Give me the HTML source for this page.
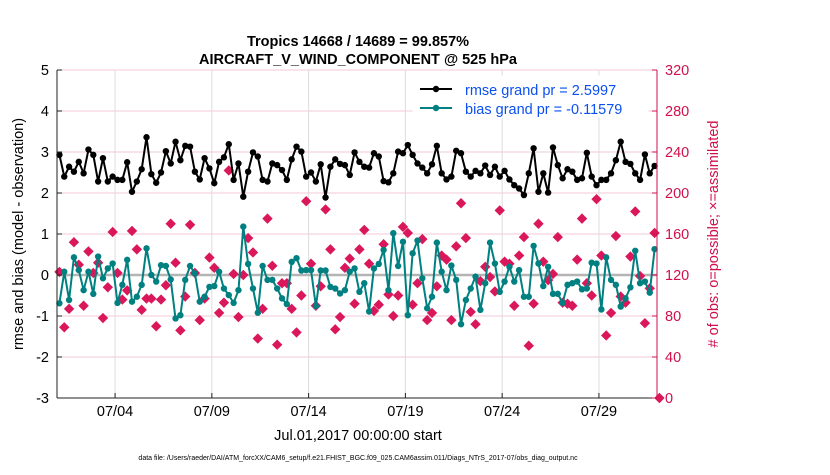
<!DOCTYPE html>
<html><head><meta charset="utf-8"><style>
body{margin:0;background:#fff;font-family:"Liberation Sans",sans-serif}
svg text{font-family:"Liberation Sans",sans-serif}
</style></head><body>
<svg id="chart" width="830" height="470" xmlns="http://www.w3.org/2000/svg">
<rect width="830" height="470" fill="#fff"/>
<text x="358" y="46" text-anchor="middle" font-size="14.5" font-weight="bold">Tropics 14668 / 14689 = 99.857%</text>
<text x="358" y="64" text-anchor="middle" font-size="14.5" font-weight="bold">AIRCRAFT_V_WIND_COMPONENT @ 525 hPa</text>
<g id="grid"></g>
<g id="marks"></g>
<g id="axes"></g>
<g>
<rect x="413" y="76" width="235" height="41" fill="#fff" stroke="#fff"/>
<line x1="420" y1="89" x2="452" y2="89" stroke="#000" stroke-width="2"/><circle cx="436" cy="89" r="3.2" fill="#000"/>
<text x="465" y="95" font-size="14.5" fill="#0a50f0">rmse grand pr = 2.5997</text>
<line x1="420" y1="108" x2="452" y2="108" stroke="#008080" stroke-width="2"/><circle cx="436" cy="108" r="3.2" fill="#008080"/>
<text x="465" y="114" font-size="14.5" fill="#0a50f0">bias grand pr = -0.11579</text>
</g>
<text transform="translate(23,234) rotate(-90)" text-anchor="middle" font-size="14.5">rmse and bias (model - observation)</text>
<text transform="translate(718,234) rotate(-90)" text-anchor="middle" font-size="14.5" fill="#d0104c"># of obs: o=possible; ×=assimilated</text>
<text x="358" y="440" text-anchor="middle" font-size="14.5">Jul.01,2017 00:00:00 start</text>
<text x="358" y="460" text-anchor="middle" font-size="7">data file: /Users/raeder/DAI/ATM_forcXX/CAM6_setup/f.e21.FHIST_BGC.f09_025.CAM6assim.011/Diags_NTrS_2017-07/obs_diag_output.nc</text>
</svg>
<script>
const rmse=[2.93,2.40,2.64,2.52,2.76,2.48,3.06,2.93,2.28,2.85,2.28,2.40,2.32,2.32,2.75,2.03,2.28,2.58,3.36,2.46,2.25,2.50,3.02,2.72,3.25,2.80,3.15,3.13,2.52,2.33,2.85,2.60,2.24,
2.76,2.87,3.19,2.32,2.72,1.91,2.52,2.99,2.89,2.32,2.28,2.72,2.68,2.56,2.32,2.82,3.13,3.01,2.40,2.50,2.28,2.70,1.89,2.64,2.82,2.71,2.68,2.44,2.99,2.76,2.64,
2.62,2.97,2.89,2.29,2.26,2.48,3.01,2.97,3.17,2.93,2.72,2.62,2.48,2.70,3.15,2.48,2.33,2.40,3.03,2.97,2.52,2.40,2.54,2.48,2.67,2.44,2.64,2.40,2.54,2.33,2.19,
2.11,1.95,2.48,3.09,2.03,2.48,2.01,3.11,2.68,2.36,2.58,2.52,2.32,2.36,2.98,2.40,2.19,2.32,2.32,2.48,2.80,3.25,2.76,2.71,2.48,2.32,2.94,2.48,2.66];
const bias=[-0.69,0.08,-0.61,0.43,0.12,-0.37,0.08,-0.46,0.45,-0.08,0.16,0.28,-0.68,-0.24,0.37,-0.65,-0.53,-0.24,0.65,0.0,-0.16,0.24,0.22,-0.11,-1.06,-0.98,-0.12,0.22,0.04,-0.65,-0.53,-0.29,-0.27,
0.08,-0.33,-0.49,-0.68,-0.37,1.18,0.27,-0.33,-0.92,0.22,-0.12,-0.12,-0.33,-0.57,-0.71,0.32,0.41,0.11,0.12,0.12,-0.76,0.11,0.11,-0.29,-0.33,-0.45,-0.37,0.08,0.16,-0.41,-0.2,
-0.89,0.16,0.27,0.61,-0.37,1.02,0.22,0.81,-0.98,0.53,0.84,-0.08,-0.81,-0.53,0.79,0.08,-0.37,0.23,-0.12,-1.20,-0.61,-0.33,-0.04,-0.85,-0.20,0.79,0.28,-0.41,-0.16,0.20,-0.16,
0.12,-0.53,-0.53,0.71,0.28,-0.27,0.20,-0.46,-0.46,-0.68,-0.24,-0.20,-0.16,-0.35,-0.33,0.30,0.28,-0.84,0.43,-0.12,-0.24,-0.77,-0.57,-0.30,0.59,-0.20,-0.16,-0.43,0.63];
const nobs=[123,69,87,152,130,90,143,122,132,78,108,162,122,96,105,163,145,86,97,97,70,96,110,170,132,66,99,169,122,76,97,137,127,
83,93,222,121,79,120,156,142,58,87,175,129,52,112,112,87,64,100,192,131,90,109,184,145,67,79,127,136,92,145,164,
131,85,91,150,101,80,100,167,161,91,112,155,76,83,109,139,135,76,148,190,156,84,72,114,128,118,104,183,133,131,90,
139,157,51,92,170,133,115,121,157,93,92,90,135,175,112,100,194,139,61,83,158,99,93,138,182,119,73,107,161,0];
const leftTicks=[-3,-2,-1,0,1,2,3,4,5];
const rightTicks=[0,40,80,120,160,200,240,280,320];
const dateTicks=[3,8,13,18,23,28];
const dateLabels=["07/04","07/09","07/14","07/19","07/24","07/29"];

const NS="http://www.w3.org/2000/svg";
const X0=57,X1=657,Y0=70,Y1=398;
const xDay=d=>X0+d/31*(X1-X0);
const xIdx=i=>xDay((i+0.5)/4);
const yL=v=>Y1-(v+3)/8*(Y1-Y0);
const yR=v=>Y1-v/320*(Y1-Y0);
function mk(tag,attrs,parent){const e=document.createElementNS(NS,tag);for(const k in attrs)e.setAttribute(k,attrs[k]);parent.appendChild(e);return e;}
const grid=document.getElementById('grid'),marks=document.getElementById('marks'),axes=document.getElementById('axes');

leftTicks.forEach(t=>{const l=mk('line',{x1:X0,x2:X1,y1:yL(t),y2:yL(t),stroke:'#f2c8d6','stroke-width':1},grid);

});
dateTicks.forEach(d=>{const l=mk('line',{x1:xDay(d),x2:xDay(d),y1:Y0,y2:Y1,stroke:'#dcdcdc','stroke-width':1},grid);

});
const zl=mk('line',{x1:X0,x2:X1,y1:yL(0),y2:yL(0),stroke:'#b4b4b4','stroke-width':2.5},grid);



nobs.forEach((v,i)=>{const x=xIdx(i),y=yR(v),r=5.2;
const p=mk('path',{d:`M${x} ${y-r}L${x+r} ${y}L${x} ${y+r}L${x-r} ${y}Z`,fill:'#d9175a'},marks);

});
function series(arr,color,name){
const pts=arr.map((v,i)=>xIdx(i).toFixed(1)+','+yL(v).toFixed(1)).join(' ');
const pl=mk('polyline',{points:pts,fill:'none',stroke:color,'stroke-width':2},marks);


arr.forEach((v,i)=>{const c=mk('circle',{cx:xIdx(i),cy:yL(v),r:3.2,fill:color},marks);

});}
series(bias,'#008080','bias');
series(rmse,'#000000','rmse');

const la=mk('line',{x1:X0,x2:X0,y1:Y0,y2:Y1,stroke:'#222','stroke-width':1},axes);


const ba=mk('line',{x1:X0,x2:X1,y1:Y1,y2:Y1,stroke:'#222','stroke-width':1},axes);


const ra=mk('line',{x1:X1,x2:X1,y1:Y0,y2:Y1,stroke:'#d0104c','stroke-width':1},axes);


leftTicks.forEach(t=>{mk('line',{x1:X0,x2:X0+5,y1:yL(t),y2:yL(t),stroke:'#222'},axes);
const tx=mk('text',{x:X0-8,y:yL(t)+5,'text-anchor':'end','font-size':14.5},axes);tx.textContent=t;

});
rightTicks.forEach(t=>{mk('line',{x1:X1-5,x2:X1,y1:yR(t),y2:yR(t),stroke:'#d0104c'},axes);
const tx=mk('text',{x:X1+8,y:yR(t)+5,'font-size':14.5,fill:'#d0104c'},axes);tx.textContent=t;

});
dateTicks.forEach((d,k)=>{mk('line',{x1:xDay(d),x2:xDay(d),y1:Y1,y2:Y1-5,stroke:'#222'},axes);
const tx=mk('text',{x:xDay(d),y:Y1+18,'text-anchor':'middle','font-size':14.5},axes);tx.textContent=dateLabels[k];

});
</script>
</body></html>
